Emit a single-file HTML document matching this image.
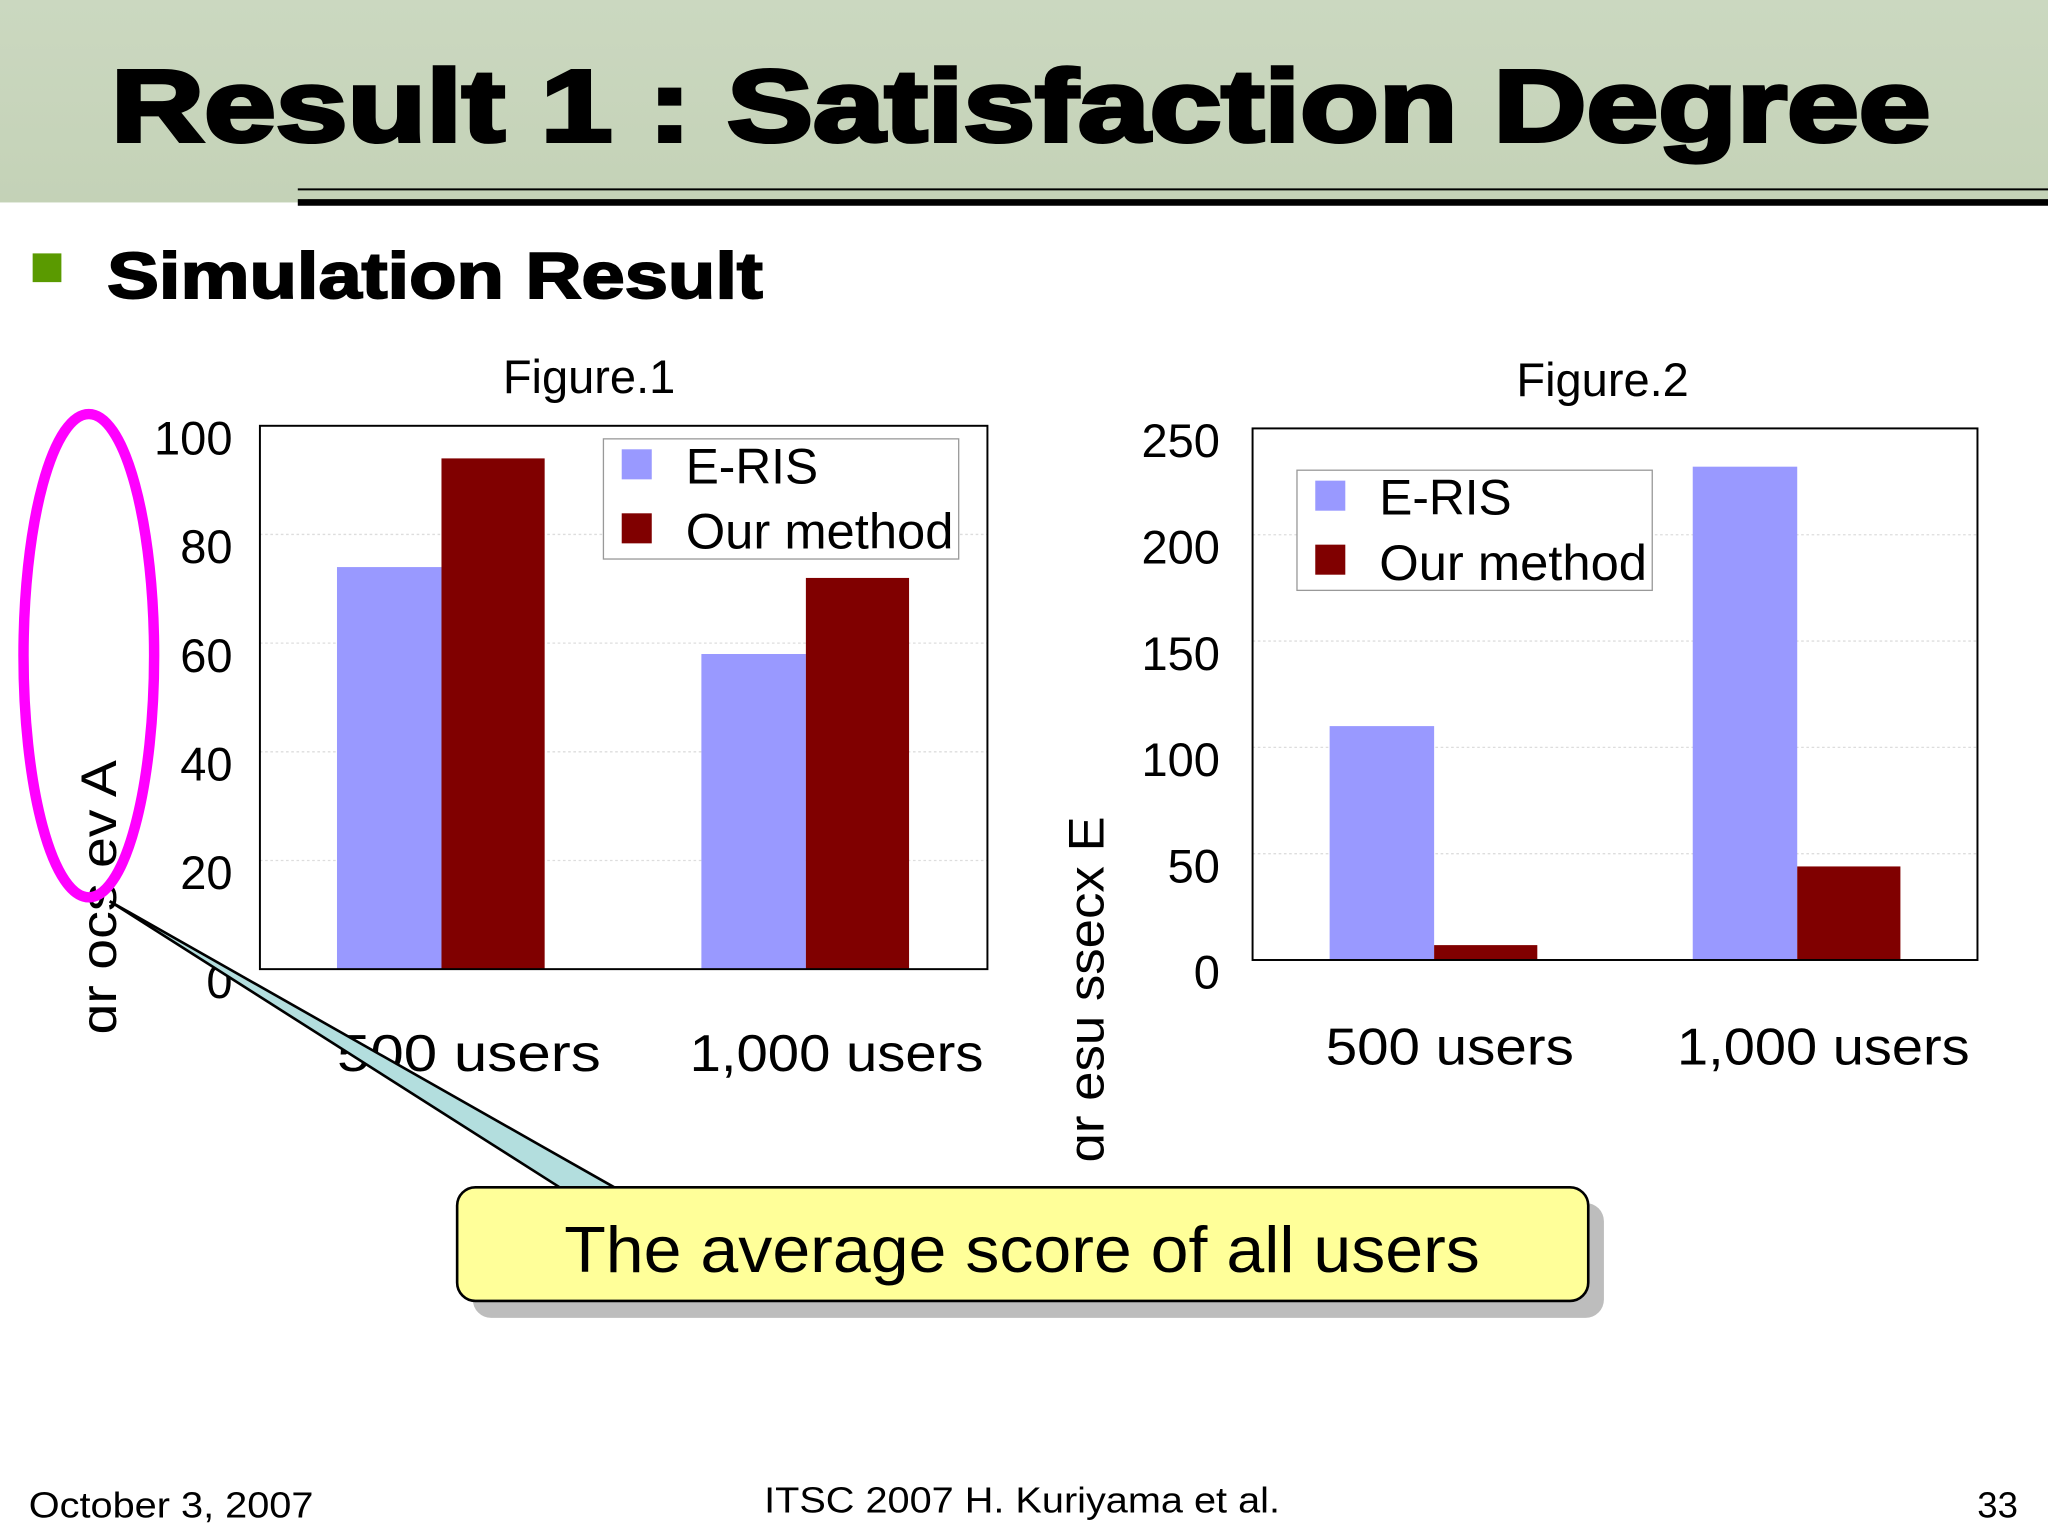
<!DOCTYPE html>
<html><head><meta charset="utf-8"><style>
html,body{margin:0;padding:0;background:#fff;}
svg{display:block;font-family:"Liberation Sans",sans-serif;}
</style></head><body>
<svg id="s" width="2048" height="1536" viewBox="0 0 1568 1176" xmlns="http://www.w3.org/2000/svg">
<defs><linearGradient id="hg" x1="0" y1="0" x2="0" y2="1"><stop offset="0" stop-color="#cbd8c0"/><stop offset="1" stop-color="#c4d2b7"/></linearGradient></defs>
<rect x="0" y="0" width="1568" height="155" fill="url(#hg)"/>
<line x1="228" y1="145" x2="1568" y2="145" stroke="#000" stroke-width="1.5"/>
<line x1="228" y1="155" x2="1568" y2="155" stroke="#000" stroke-width="5"/>
<text x="85" y="108" font-size="78" font-weight="bold" stroke="#000" stroke-width="3" textLength="1393" lengthAdjust="spacingAndGlyphs">Result 1 : Satisfaction Degree</text>
<rect x="25" y="194" width="22" height="22" fill="#5a9a00"/>
<text x="82" y="228" font-size="50" font-weight="bold" stroke="#000" stroke-width="1.5" textLength="502" lengthAdjust="spacingAndGlyphs">Simulation Result</text>
<g id="charts"></g>
<ellipse cx="68" cy="502" rx="50" ry="185" fill="none" stroke="#ff00ff" stroke-width="8"/>
<polygon points="84,690 430,910 472,910" fill="#b3dede" stroke="none"/>
<line x1="84" y1="690" x2="430" y2="910" stroke="#000" stroke-width="2"/>
<line x1="84" y1="690" x2="472" y2="910" stroke="#000" stroke-width="2"/>
<rect x="362" y="921" width="866" height="88" rx="14" fill="#bdbdbd"/>
<rect x="350" y="909" width="866" height="87" rx="14" fill="#ffff99" stroke="#000" stroke-width="2"/>
<text x="432" y="974" font-size="50" textLength="701" lengthAdjust="spacingAndGlyphs">The average score of all users</text>
<text x="22" y="1162" font-size="28" textLength="218" lengthAdjust="spacingAndGlyphs">October 3, 2007</text>
<text x="585" y="1158" font-size="28" textLength="395" lengthAdjust="spacingAndGlyphs">ITSC 2007 H. Kuriyama et al.</text>
<text x="1545" y="1162" font-size="28" text-anchor="end">33</text>
</svg>
<script>
const categories=["500  users","1,000 users"];
const categories2=["500 users","1,000 users"];
const fig1Eris=[74,58];
const fig1Ours=[94,72];
const fig2Eris=[110,232];
const fig2Ours=[7,44];
const fig1Ticks=[0,20,40,60,80,100];
const fig2Ticks=[0,50,100,150,200,250];
const NS="http://www.w3.org/2000/svg";
const g=document.getElementById('charts');
function mk(t,a,txt){const e=document.createElementNS(NS,t);for(const k in a)e.setAttribute(k,a[k]);if(txt!==undefined)e.textContent=txt;g.appendChild(e);return e;}
function chart(c){
  const y=v=>c.y0-(v/c.max)*(c.y0-c.y1);
  let e;
  c.ticks.forEach(t=>{
    if(t>0&&t<c.max){e=mk('line',{x1:c.x0,x2:c.x1,y1:y(t),y2:y(t),stroke:'#ddd','stroke-width':1,'stroke-dasharray':'2,2'});
    
    }
    e=mk('text',{x:c.tickX,y:y(t)+22,'font-size':36,'text-anchor':'end'},String(t));
    
    
  });
  const bw=80;
  c.cats.forEach((cat,i)=>{
    const cx=c.x0+c.firstOff+i*c.groupStep;
    e=mk('rect',{x:cx-bw,y:y(c.a[i]),width:bw,height:c.y0-y(c.a[i]),fill:'#9999ff'});
    
    
    e=mk('rect',{x:cx,y:y(c.b[i]),width:bw-1,height:c.y0-y(c.b[i]),fill:'#800000'});
    
    
    e=mk('text',{x:c.labX[i],y:c.labY,'font-size':40,'xml:space':'preserve',textLength:c.labW[i],lengthAdjust:'spacingAndGlyphs'},cat);
    
    
  });
  e=mk('rect',{x:c.x0,y:c.y1,width:c.x1-c.x0,height:c.y0-c.y1,fill:'none',stroke:'#000','stroke-width':1.5});
  
  
  e=mk('text',{x:c.titleX,y:c.y1-25,'font-size':36,'text-anchor':'middle'},c.title);
  
  
  const L=c.leg;
  e=mk('rect',{x:L[0],y:L[1],width:272,height:92,fill:'#fff',stroke:'#999','stroke-width':1});
  
  
  e=mk('rect',{x:L[0]+14,y:L[1]+8,width:23,height:23,fill:'#9999ff'});
  
  
  e=mk('text',{x:L[0]+63,y:L[1]+34,'font-size':38},'E-RIS');
  
  
  e=mk('rect',{x:L[0]+14,y:L[1]+57,width:23,height:23,fill:'#800000'});
  
  
  e=mk('text',{x:L[0]+63,y:L[1]+84,'font-size':38,textLength:205,lengthAdjust:'spacingAndGlyphs'},'Our method');
  
  
  e=mk('text',{transform:`translate(${c.ylx},${c.yly}) rotate(-90)`,'font-size':38,'xml:space':'preserve',textLength:c.ylw,lengthAdjust:'spacingAndGlyphs'},c.ylab);
  
  
}
chart({x0:199,x1:756,y0:742,y1:326,max:100,ticks:fig1Ticks,tickX:178,cats:categories,a:fig1Eris,b:fig1Ours,firstOff:139,groupStep:279,labX:[258,528],labW:[202,225],labY:820,title:'Figure.1',titleX:451,leg:[462,336],ylab:'ɑr ocs   ev A',ylw:210,ylx:89,yly:792});
chart({x0:959,x1:1514,y0:735,y1:328,max:250,ticks:fig2Ticks,tickX:934,cats:categories2,a:fig2Eris,b:fig2Ours,firstOff:139,groupStep:278,labX:[1015,1284],labW:[190,224],labY:815,title:'Figure.2',titleX:1227,leg:[993,360],ylab:'ɑr esu ssecx E',ylw:265,ylx:845,yly:890});
</script>
</body></html>
